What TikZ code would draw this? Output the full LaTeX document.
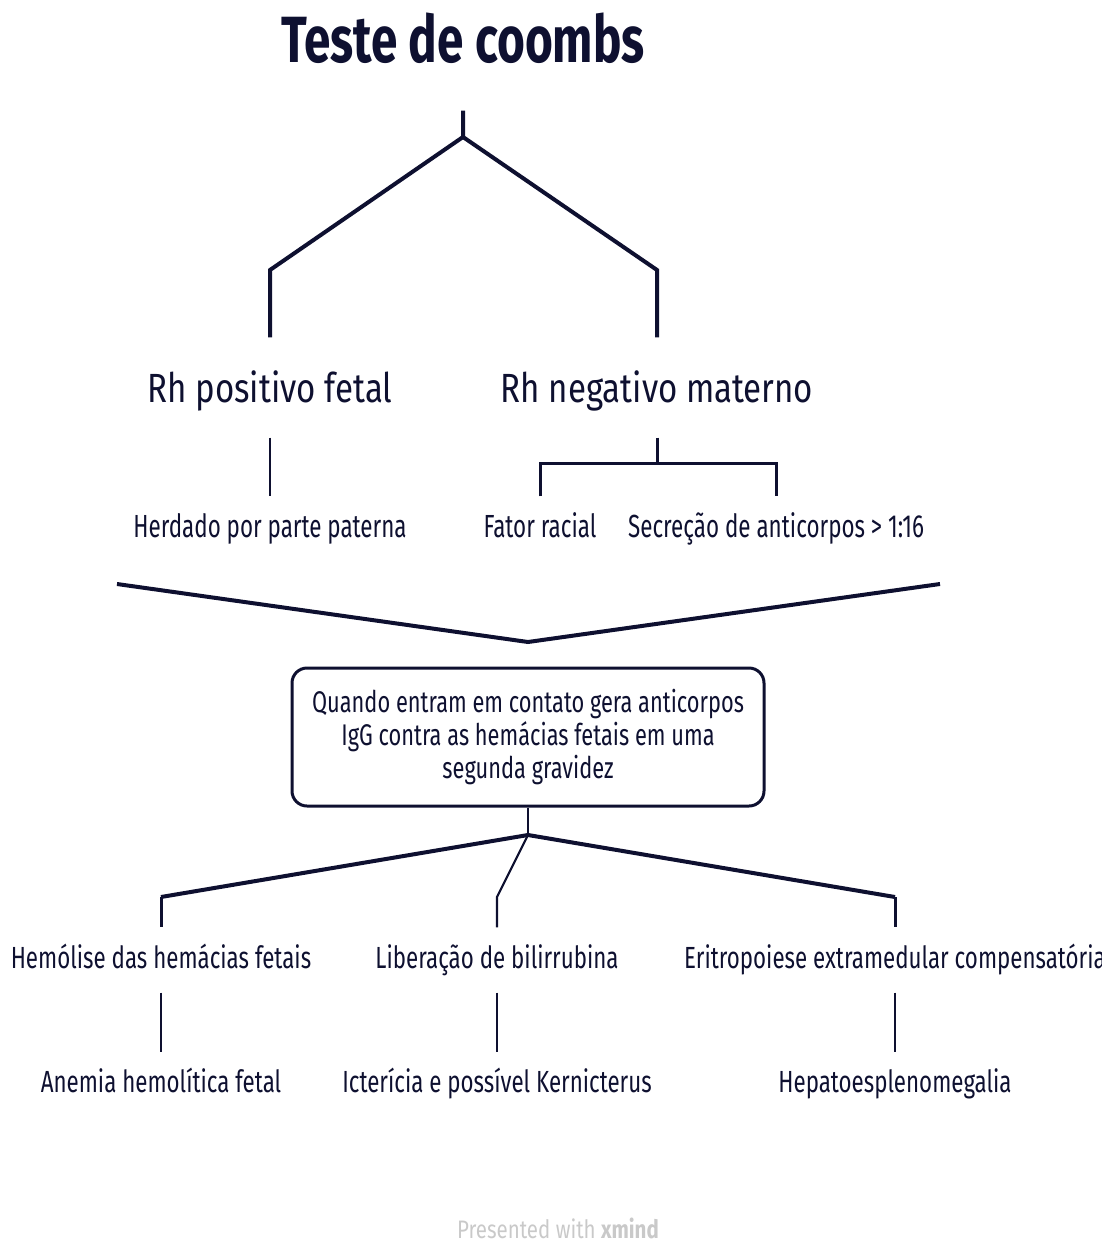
\documentclass[tikz,border=0pt]{standalone}
\usepackage{fontspec}
\setmainfont{Fira Sans}[FakeStretch=0.73]
\newfontfamily\titlefont{Fira Sans}[FakeStretch=0.73]
\newfontfamily\lvlonefont{Fira Sans}[FakeStretch=0.81]
\newfontfamily\lvltwofont{Fira Sans}[FakeStretch=0.70]
\definecolor{ink}{HTML}{0E1030}
\definecolor{mark}{HTML}{C9C9C9}
\tikzset{
  thickbranch/.style={draw=ink, line width=0.4mm, line join=miter},
  midbranch/.style={draw=ink, line width=0.3mm},
  thinbranch/.style={draw=ink, line width=0.22mm},
  lvltitle/.style={anchor=base, inner sep=0pt, text=ink, text height=4.8mm, text depth=4.8mm,
    font=\titlefont\bfseries\fontsize{18.6}{20}\selectfont},
  lvlone/.style={anchor=base, inner sep=0pt, text=ink, text height=6.4mm, text depth=3.5mm,
    font=\lvlonefont\fontsize{11.6}{13}\selectfont},
  lvltwo/.style={anchor=base, inner sep=0pt, text=ink, text height=4mm, text depth=1.5mm,
    font=\lvltwofont\fontsize{9.1}{11}\selectfont},
  leaf/.style={anchor=base, inner sep=0pt, text=ink, text height=4mm, text depth=2.4mm,
    font=\fontsize{8.7}{10}\selectfont},
  topicbox/.style={draw=ink, line width=0.3mm, rounded corners=1.5mm, text=ink,
    minimum width=47.2mm, minimum height=13.8mm, align=center,
    font=\fontsize{8.5}{9.4}\selectfont}
}
\begin{document}
\begin{tikzpicture}[x=0.1mm,y=-0.1mm]
  \useasboundingbox (0,0) rectangle (1101,1243);
  \clip (0,0) rectangle (1101,1243);

  % title and first split
  \node[lvltitle] (title) at (463,62) {Teste de coombs};
  \node[lvlone] (rhpos) at (270,402) {Rh positivo fetal};
  \node[lvlone] (rhneg) at (657,402) {Rh negativo materno};
  \coordinate (top) at (463,137);
  \coordinate (lcorner) at (270,270);
  \coordinate (rcorner) at (657,270);
  \draw[thickbranch] (title.south) -- (top) -- (lcorner) -- (rhpos.north);
  \draw[thickbranch] (top) -- (rcorner) -- (rhneg.north);

  % second level
  \node[lvltwo] (herdado) at (270,537) {Herdado por parte paterna};
  \node[lvltwo] (fator) at (540,537) {Fator racial};
  \node[lvltwo] (secrecao) at (776,537) {Secreção de anticorpos > 1:16};
  \coordinate (negj) at (657,463);
  \draw[thinbranch] (rhpos.south) -- (herdado.north);
  \draw[midbranch] (rhneg.south) -- (negj);
  \draw[midbranch] (fator.north) -- (fator.north |- negj) -- (secrecao.north |- negj) -- (secrecao.north);

  % joining lines
  \coordinate (cvl) at (117,584);
  \coordinate (cvm) at (528,642);
  \coordinate (cvr) at (940,584);
  \draw[thickbranch] (cvl) -- (cvm) -- (cvr);

  \node[topicbox] (contato) at (528,737) {Quando entram em contato gera anticorpos\\
    IgG contra as hemácias fetais em uma\\ segunda gravidez};

  % consequences
  \node[leaf] (hemolise) at (161,968) {Hemólise das hemácias fetais};
  \node[leaf] (bilirrubina) at (497,968) {Liberação de bilirrubina};
  \node[leaf] (eritro) at (895,968) {Eritropoiese extramedular compensatória};
  \coordinate (bj) at (528,835);
  \coordinate (blcorner) at (161,897);
  \coordinate (bmcorner) at (497,897);
  \coordinate (brcorner) at (895,897);
  \draw[thinbranch] (contato.south) -- (bj);
  \draw[thickbranch] (bj) -- (blcorner);
  \draw[thickbranch] (bj) -- (brcorner);
  \draw[midbranch] (blcorner) -- (hemolise.north);
  \draw[midbranch] (brcorner) -- (eritro.north);
  \draw[thinbranch] (bj) -- (bmcorner) -- (bilirrubina.north);

  \node[leaf, text height=3.9mm, text depth=1mm] (anemia) at (161,1092) {Anemia hemolítica fetal};
  \node[leaf, text height=3.9mm, text depth=1mm] (ictericia) at (497,1092) {Icterícia e possível Kernicterus};
  \node[leaf, text height=3.9mm, text depth=1mm] (hepato) at (895,1092) {Hepatoesplenomegalia};
  \draw[thinbranch] (hemolise.south) -- (anemia.north);
  \draw[thinbranch] (bilirrubina.south) -- (ictericia.north);
  \draw[thinbranch] (eritro.south) -- (hepato.north);

  \node[anchor=base, inner sep=0pt, text=mark, font=\lvlonefont\fontsize{7.2}{8}\selectfont]
    (footer) at (558,1238) {Presented with \textbf{xmind}};
\end{tikzpicture}
\end{document}
